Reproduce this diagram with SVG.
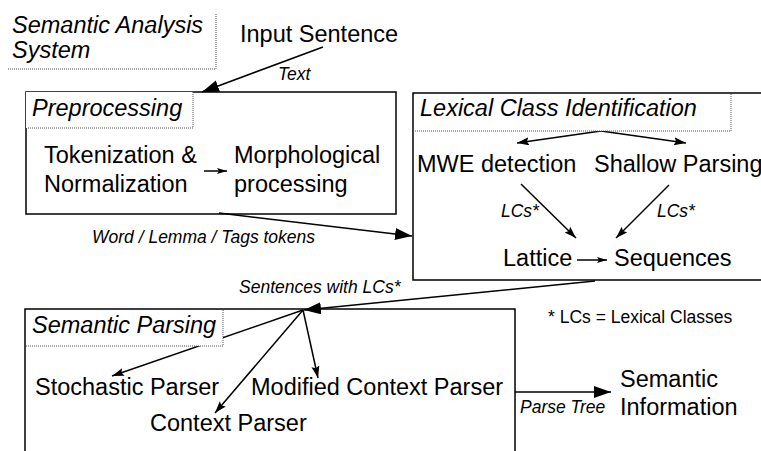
<svg xmlns="http://www.w3.org/2000/svg" width="761" height="451" viewBox="0 0 761 451">
<style>
text{font-family:"Liberation Sans",Arial,sans-serif;fill:#000}
.m{font-size:23.5px}
.i{font-style:italic}
.s{font-size:17.5px;font-style:italic}
.box{fill:none;stroke:#000;stroke-width:1.5}
.dot{fill:#fff;stroke:#555;stroke-width:1;stroke-dasharray:1 1}
.c{fill:none;stroke:#000;stroke-width:1.5}
</style>
<defs>
<marker id="big" markerUnits="userSpaceOnUse" markerWidth="18" markerHeight="14" refX="17" refY="6" orient="auto"><path d="M0,0 L17,6 L0,12 Z" fill="#000"/></marker>
<marker id="mid" markerUnits="userSpaceOnUse" markerWidth="14" markerHeight="10" refX="12" refY="4" orient="auto"><path d="M0,0 L12,4 L0,8 L2,4 Z" fill="#000"/></marker>
<marker id="sm" markerUnits="userSpaceOnUse" markerWidth="12" markerHeight="8" refX="10" refY="3" orient="auto"><path d="M0,0 L10,3 L0,6 L2,3 Z" fill="#000"/></marker>
</defs>
<rect width="761" height="451" fill="#fff"/>

<g id="connectors">
<line class="c" x1="323" y1="47" x2="202" y2="92" marker-end="url(#big)"/>
<line class="c" x1="219" y1="213" x2="412" y2="236" marker-end="url(#big)"/>
<line class="c" x1="595" y1="281" x2="304" y2="310" marker-end="url(#big)"/>
<line class="c" x1="515" y1="392" x2="611" y2="392" marker-end="url(#big)"/>
<line class="c" x1="204" y1="171" x2="227" y2="171" marker-end="url(#sm)"/>
<line class="c" x1="577" y1="260" x2="607" y2="260" marker-end="url(#sm)"/>
<line class="c" x1="601" y1="131" x2="517" y2="143" marker-end="url(#mid)"/>
<line class="c" x1="601" y1="131" x2="686" y2="143" marker-end="url(#mid)"/>
<line class="c" x1="521" y1="184" x2="576" y2="238" marker-end="url(#mid)"/>
<line class="c" x1="669" y1="185" x2="616" y2="238" marker-end="url(#mid)"/>
<line class="c" x1="303" y1="310" x2="112" y2="376" marker-end="url(#mid)"/>
<line class="c" x1="303" y1="310" x2="215" y2="413" marker-end="url(#mid)"/>
<line class="c" x1="303" y1="310" x2="318" y2="378" marker-end="url(#mid)"/>
<text class="s" x="278" y="80">Text</text>
<text class="s" x="92" y="243">Word / Lemma / Tags tokens</text>
<text class="s" x="239" y="293">Sentences with LCs*</text>
<text class="s" x="501" y="217">LCs*</text>
<text class="s" x="657" y="217">LCs*</text>
<text class="s" x="520" y="413">Parse Tree</text>
</g>

<g id="title">
<path d="M216,14 V69 H7" class="dot" fill="none"/>
<text class="m i" x="12" y="33">Semantic Analysis</text>
<text class="m i" x="12" y="58">System</text>
</g>

<g id="input">
<text class="m" x="240" y="42">Input Sentence</text>
</g>

<g id="preprocessing">
<rect class="box" x="26" y="92" width="370" height="122"/>
<path class="dot" d="M26,92 H193 V128 H26 Z" style="stroke:none"/>
<path class="dot" d="M193,92 V128 H27" fill="none"/>
<text class="m i" x="32" y="116">Preprocessing</text>
</g>
<g id="tokenization"><text class="m" x="44" y="163">Tokenization &amp;</text><text class="m" x="44" y="192">Normalization</text></g>
<g id="morphological"><text class="m" x="234" y="163">Morphological</text><text class="m" x="234" y="192">processing</text></g>

<g id="lexical">
<path class="box" d="M765,93 H413 V280 H765"/>
<path class="dot" d="M731,94 V131 H414" fill="none"/>
<text class="m i" x="420" y="116">Lexical Class Identification</text>
</g>
<g id="mwe"><text class="m" x="417" y="172">MWE detection</text></g>
<g id="shallow"><text class="m" x="594" y="172">Shallow Parsing</text></g>
<g id="lattice"><text class="m" x="503" y="266">Lattice</text></g>
<g id="sequences"><text class="m" x="614" y="266">Sequences</text></g>

<g id="semantic-parsing">
<path class="box" d="M25,460 V309 H515 V460"/>
<path d="M26,310 H223 V346 H26 Z" fill="#fff"/>
<path class="dot" d="M223,310 V346 H26" fill="none"/>
<text class="m i" x="32" y="333">Semantic Parsing</text>
</g>
<g id="stochastic"><text class="m" x="35" y="395">Stochastic Parser</text></g>
<g id="modified"><text class="m" x="251" y="395">Modified Context Parser</text></g>
<g id="context"><text class="m" x="150" y="431">Context Parser</text></g>

<g id="semantic-info"><text class="m" x="620" y="387">Semantic</text><text class="m" x="620" y="415">Information</text></g>
<g id="note"><text x="548" y="323" style="font-size:17.5px">* LCs = Lexical Classes</text></g>
</svg>
